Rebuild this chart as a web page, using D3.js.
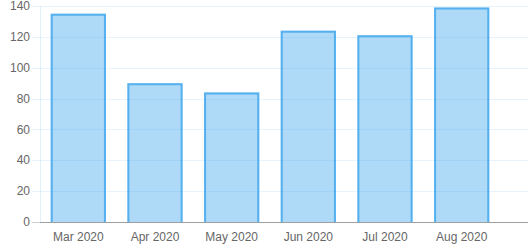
<!DOCTYPE html>
<html><head><meta charset="utf-8">
<script src="https://cdn.jsdelivr.net/npm/d3@7"></script>
<style>body{margin:0;background:#fff}svg{display:block}text{font-family:"Liberation Sans",Arial,sans-serif;font-size:12px;fill:#666}</style>
</head><body><svg id="c" width="528" height="250"></svg>
<script>
const categories = ["Mar 2020","Apr 2020","May 2020","Jun 2020","Jul 2020","Aug 2020"];
const values = [135, 90, 84, 124, 121, 139];
const yTicks = [0,20,40,60,80,100,120,140];

(function(){
const svg = d3.select("#c");
const L = 40, R = 500, GR = 528, T = 6, B = 222;
const x = d3.scaleBand().domain(categories).range([L, R]).padding(0);
const y = d3.scaleLinear().domain([0, 140]).range([B, T]);

// grid
svg.append("g").selectAll("line").data(yTicks.filter(d=>d>0)).join("line")
  .attr("x1", L-8).attr("x2", GR)
  .attr("y1", d=>Math.round(y(d))+0.5).attr("y2", d=>Math.round(y(d))+0.5)
  .attr("stroke", "rgba(54,162,235,0.12)").attr("stroke-width",1);
svg.append("line").attr("x1", L+0.5).attr("x2", L+0.5).attr("y1", T).attr("y2", B)
  .attr("stroke", "rgba(54,162,235,0.15)");
svg.append("line").attr("x1", L-8).attr("x2", L).attr("y1", B+0.5).attr("y2", B+0.5)
  .attr("stroke", "#ccc");

// y labels
svg.append("g").selectAll("text").data(yTicks).join("text")
  .attr("x", 30).attr("y", d=>y(d)).attr("dy","0.35em").attr("text-anchor","end").text(d=>d);

// bars
const bw = x.bandwidth()*0.72;
const g = svg.append("g");
categories.forEach((c,i)=>{
  const cx = x(c)+x.bandwidth()/2;
  const x0 = cx - bw/2, x1 = cx + bw/2, yt = y(values[i]);
  g.append("rect").attr("x", x0).attr("y", yt).attr("width", bw).attr("height", B-yt)
    .attr("fill", "rgba(54,162,235,0.4)");
  g.append("path").attr("d", `M${x0+1},${B} L${x0+1},${yt+1} L${x1-1},${yt+1} L${x1-1},${B}`)
    .attr("fill","none").attr("stroke","rgba(54,162,235,0.75)").attr("stroke-width",2);
});

// x axis
svg.append("line").attr("x1", L).attr("x2", GR).attr("y1", B+0.5).attr("y2", B+0.5)
  .attr("stroke", "#a0a0a0");
svg.append("g").selectAll("text").data(categories).join("text")
  .attr("x", d=>x(d)+x.bandwidth()/2).attr("y", 241).attr("text-anchor","middle").text(d=>d);
})();
</script></body></html>
